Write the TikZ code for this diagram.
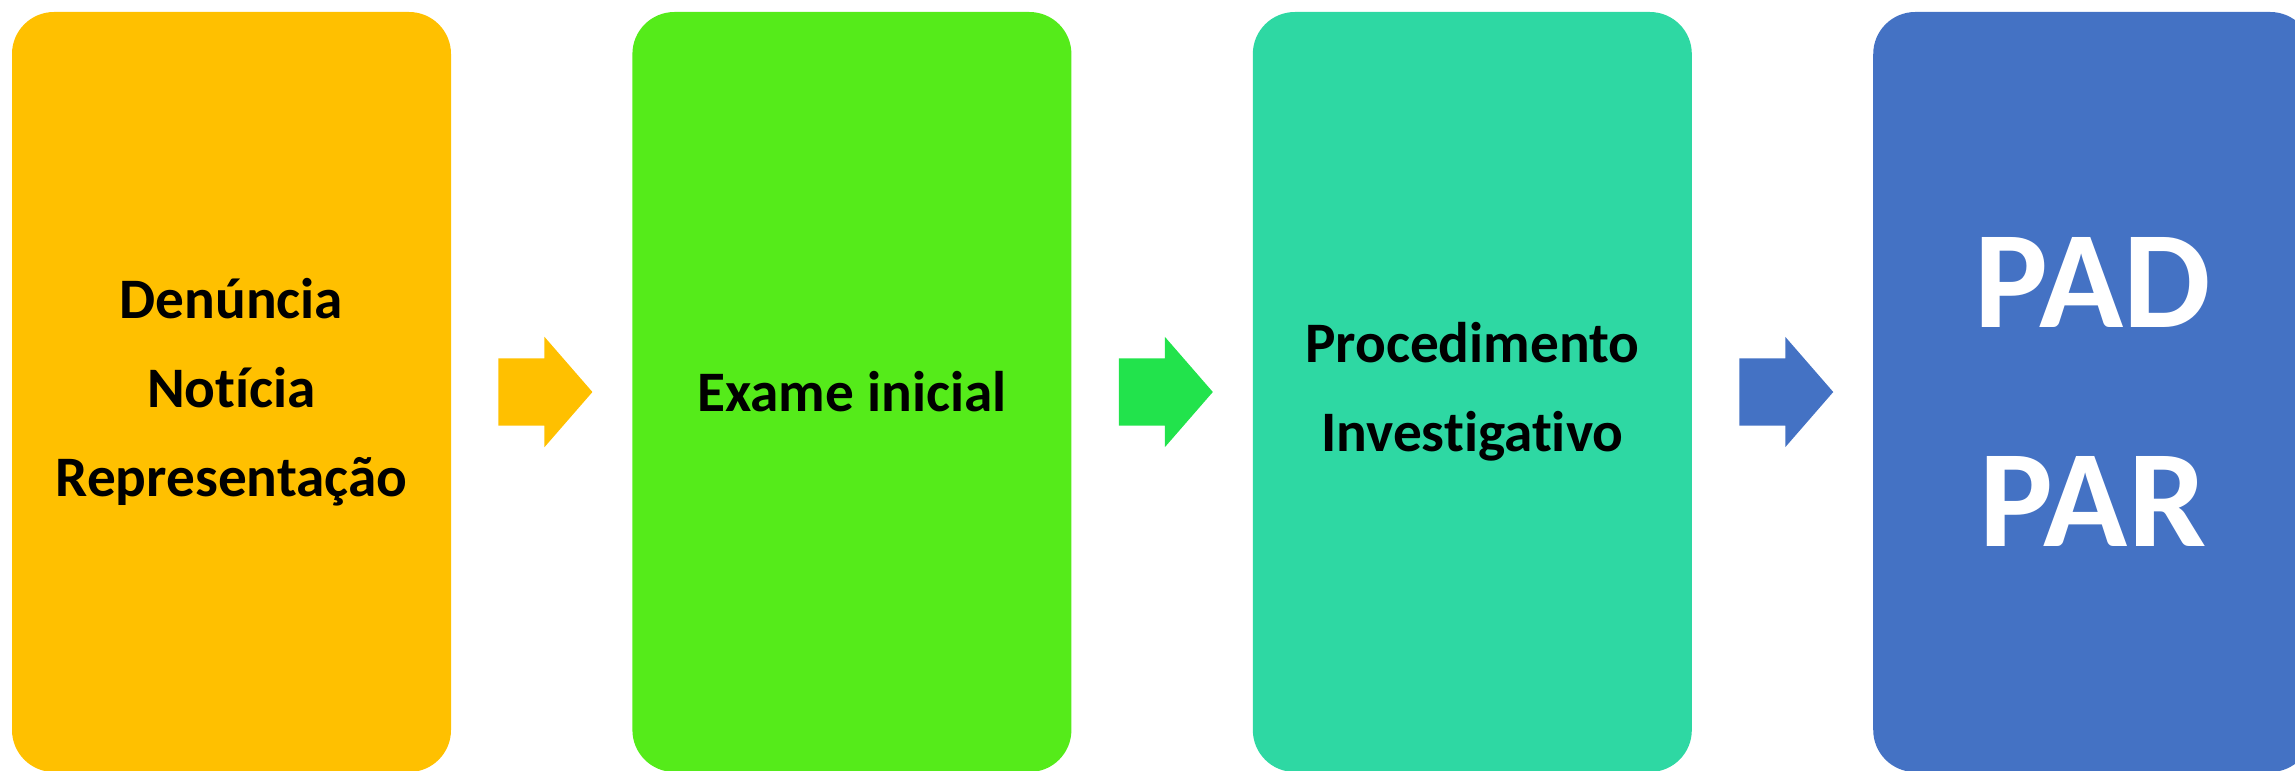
\documentclass[tikz,border=0pt]{standalone}
\usepackage{fontspec}
\setmainfont{Carlito}[Ligatures=NoCommon]
\usetikzlibrary{positioning,shapes.arrows}
\definecolor{stageyellow}{HTML}{FFC000}
\definecolor{stagegreen}{HTML}{55EB1A}
\definecolor{stageteal}{HTML}{2ED8A3}
\definecolor{stageblue}{HTML}{4472C4}
\definecolor{arrowgreen}{HTML}{22E34C}
\tikzset{
  stagebox/.style={rounded corners=0.42cm, minimum width=4.39cm, minimum height=7.60cm,
    inner sep=0pt, align=center, font=\bfseries\fontsize{16.3}{25.3}\selectfont},
  flowarrow/.style={single arrow, minimum height=0.94cm, inner xsep=0pt, inner ysep=0.33cm,
    single arrow head extend=0.215cm, single arrow tip angle=98}
}
\begin{document}
\begin{tikzpicture}
    \clip (0,0) rectangle (22.95,7.70);
    \node[stagebox, fill=stageyellow] (denuncia) at (2.315,3.78) {Denúncia\\Notícia\\Representação};
    \node[stagebox, fill=stagegreen, right=1.80cm of denuncia] (exame) {Exame inicial};
    \node[stagebox, fill=stageteal, right=1.80cm of exame] (procedimento) {Procedimento\\Investigativo};
    \node[stagebox, fill=stageblue, text=white, right=1.80cm of procedimento,
      font=\bfseries\fontsize{39.5}{62.3}\selectfont] (pad) {PAD\\PAR};
    \node[flowarrow, fill=stageyellow, right=0.46cm of denuncia] (arrowA) {};
    \node[flowarrow, fill=arrowgreen, right=0.46cm of exame] (arrowB) {};
    \node[flowarrow, fill=stageblue, right=0.46cm of procedimento] (arrowC) {};
\end{tikzpicture}
\end{document}
